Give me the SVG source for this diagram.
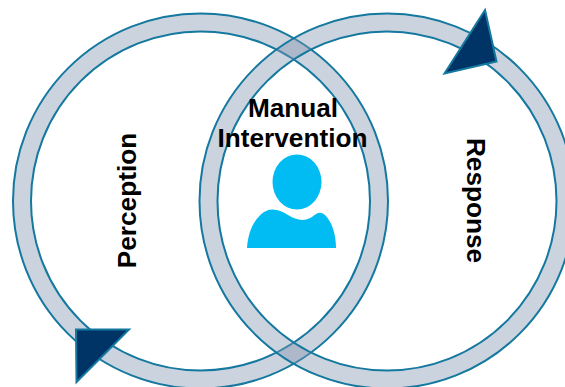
<svg xmlns="http://www.w3.org/2000/svg" width="565" height="387" viewBox="0 0 565 387">
<style>
.ring{fill:#8497b0;fill-opacity:.42;fill-rule:evenodd;stroke:#14789f;stroke-width:2}
.arrow{fill:#003366;stroke:#14789f;stroke-width:2}
.person{fill:#00bcf2}
text{font-family:"Liberation Sans",Arial,sans-serif;font-weight:bold;font-size:26.200px;fill:#000;text-anchor:middle}
</style>
<rect width="565" height="387" fill="#fff"/>
<g id="connectors">
<path id="ring-left" class="ring" d="M13 201a187.500 187.500 0 1 0 375 0a187.500 187.500 0 1 0 -375 0ZM31 201a169.500 169.500 0 1 0 339 0a169.500 169.500 0 1 0 -339 0Z"/>
<path id="ring-right" class="ring" d="M199.500 201a187.500 187.500 0 1 0 375 0a187.500 187.500 0 1 0 -375 0ZM217.500 201a169.500 169.500 0 1 0 339 0a169.500 169.500 0 1 0 -339 0Z"/>
<polygon id="arrow-right" class="arrow" points="485,10 496.500,61.500 444.500,73.500"/>
<polygon id="arrow-left" class="arrow" points="76,329.500 129,329.500 76.500,382"/>
</g>
<g id="node-manual">
<text x="293" y="117">Manual</text>
<text x="292.500" y="147">Intervention</text>
<g id="person">
<ellipse class="person" cx="297" cy="182" rx="24.500" ry="27.500"/>
<path class="person" d="M247 248C248 232 254 219 264 212C272 207 280 210 288 215C296 220 304 222 312 217C317 213 320 211 325 215C332 222 336 234 336 248Z"/>
</g>
</g>
<g id="node-perception"><text transform="translate(135.500 200.500) rotate(-90)">Perception</text></g>
<g id="node-response"><text transform="translate(467 200.500) rotate(90)">Response</text></g>
</svg>
